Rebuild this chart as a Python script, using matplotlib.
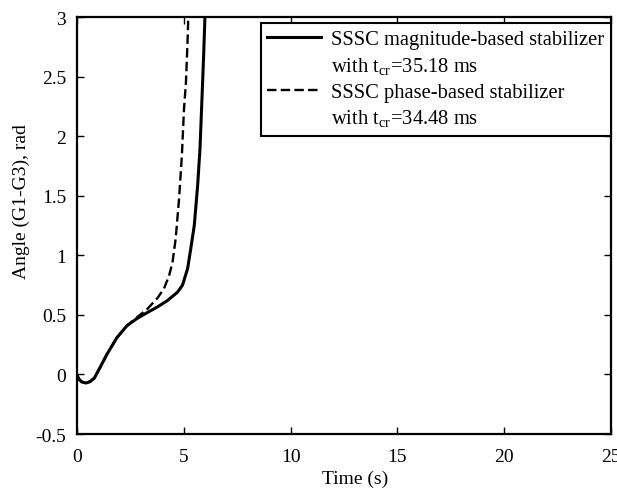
import matplotlib
matplotlib.use('Agg')
import matplotlib.pyplot as plt
from matplotlib.lines import Line2D
import numpy as np

plt.rcParams['font.family'] = ['Liberation Serif', 'DejaVu Serif']
plt.rcParams['mathtext.fontset'] = 'custom'
plt.rcParams['mathtext.rm'] = 'Liberation Serif'

# magnitude-based stabilizer (solid)
t_mag = [0, 0.08, 0.2, 0.4, 0.6, 0.8, 1.07, 1.39, 1.86, 2.33, 2.8, 3.28, 3.75, 4.22, 4.69,
         4.93, 5.17, 5.32, 5.48, 5.64, 5.75, 5.84, 5.92, 5.98, 6.02]
y_mag = [-0.01, -0.04, -0.062, -0.072, -0.06, -0.03, 0.06, 0.17, 0.31, 0.41, 0.47, 0.52, 0.566,
         0.62, 0.69, 0.75, 0.89, 1.06, 1.25, 1.59, 1.90, 2.31, 2.68, 3.0, 3.5]

# phase-based stabilizer (dashed)
t_ph = [0, 0.08, 0.2, 0.4, 0.6, 0.8, 1.07, 1.39, 1.86, 2.33, 2.8, 3.28, 3.75, 4.06, 4.3, 4.46,
        4.61, 4.77, 4.9, 5.0, 5.09, 5.17, 5.2, 5.23]
y_ph = [-0.01, -0.04, -0.062, -0.072, -0.06, -0.03, 0.06, 0.17, 0.31, 0.41, 0.48, 0.55, 0.64,
        0.72, 0.83, 0.94, 1.14, 1.48, 1.84, 2.23, 2.45, 2.82, 3.0, 3.5]

legend_labels = ['SSSC magnitude-based stabilizer', 'with t$_{\\rm cr}$=35.18 ms',
                 'SSSC phase-based stabilizer', 'with t$_{\\rm cr}$=34.48 ms']

fig = plt.figure(figsize=(6.17, 4.89), dpi=100)
ax = fig.add_axes([0.1253, 0.1104, 0.8647, 0.8526])

l1, = ax.plot(t_mag, y_mag, 'k-', lw=2.2)
l2, = ax.plot(t_ph, y_ph, 'k--', lw=1.7, dashes=(4, 1.8))

ax.set_xlim(0, 25)
ax.set_ylim(-0.5, 3)
ax.set_xticks([0, 5, 10, 15, 20, 25])
ax.set_yticks([-0.5, 0, 0.5, 1, 1.5, 2, 2.5, 3])
ax.set_yticklabels(['-0.5', '0', '0.5', '1', '1.5', '2', '2.5', '3'])
ax.tick_params(direction='in', top=True, right=True, length=5, width=1, labelsize=14)
ax.tick_params(axis='x', pad=10)
ax.tick_params(axis='y', pad=8)
for s in ax.spines.values():
    s.set_linewidth(1.6)

ax.set_xlabel('Time (s)', fontsize=14)
ax.set_ylabel('Angle (G1-G3), rad', fontsize=14)
ax.xaxis.set_label_coords(0.520, -0.086)
ax.yaxis.set_label_coords(-0.088, 0.559)

blank = Line2D([], [], color='none')
leg = ax.legend([l1, blank, l2, blank], legend_labels,
                loc='upper right', bbox_to_anchor=(1.0, 0.985), borderaxespad=0,
                fontsize=14.8, fancybox=False, edgecolor='k', framealpha=1,
                handlelength=2.6, handletextpad=0.5, labelspacing=0.28, borderpad=0.32)
leg.get_frame().set_linewidth(1.5)

fig.savefig('out.png', dpi=100)
